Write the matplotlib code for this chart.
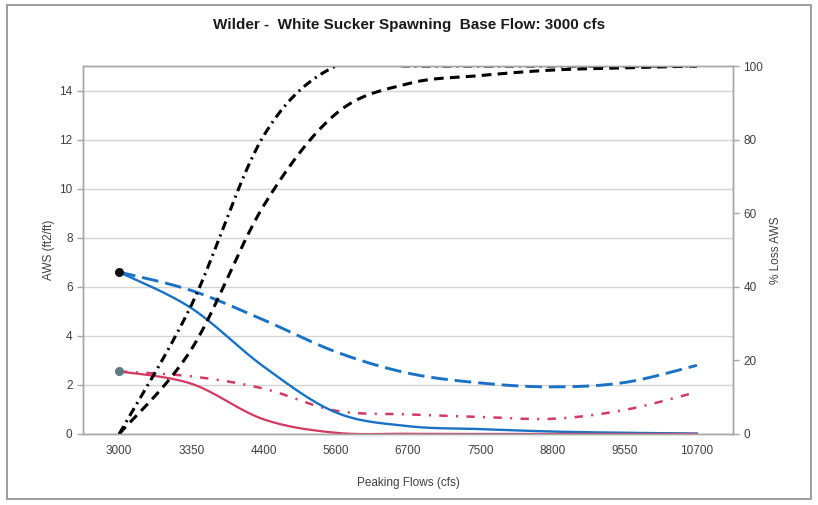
import numpy as np
import matplotlib
matplotlib.use("Agg")
import matplotlib.pyplot as plt
from matplotlib.patches import Rectangle

plt.rcParams['font.family'] = ['Liberation Sans', 'DejaVu Sans']
plt.rcParams['lines.scale_dashes'] = False

flows = ["3000", "3350", "4400", "5600", "6700", "7500", "8800", "9550", "10700"]

# AWS (ft2/ft), left axis
aws_blue = [6.6, 5.13, 2.75, 0.88, 0.32, 0.2, 0.1, 0.05, 0.02]
aws_blue_dash = [6.6, 5.85, 4.65, 3.35, 2.48, 2.08, 1.92, 2.1, 2.8]
aws_red = [2.55, 2.05, 0.6, 0.05, 0.01, 0.0, 0.0, 0.0, 0.0]
aws_red_dashdot = [2.55, 2.35, 1.85, 0.95, 0.8, 0.7, 0.62, 0.98, 1.71]

# % Loss AWS, right axis
loss_dashdot = [0, 35, 81, 100, 100, 100, 100, 100, 100]
loss_dash = [0, 23, 62, 87, 95.2, 97.4, 98.9, 99.5, 100]


def smooth(y, n=30):
    # Excel-style smoothed line (Bezier through the points)
    pts = np.column_stack([np.arange(len(y), dtype=float), np.asarray(y, float)])
    t = np.linspace(0, 1, n)[:, None]
    out = []
    for i in range(len(pts) - 1):
        p0 = pts[i - 1] if i > 0 else pts[i]
        p1, p2 = pts[i], pts[i + 1]
        p3 = pts[i + 2] if i + 2 < len(pts) else pts[i + 1]
        c1 = p1 + (p2 - p0) / 6
        c2 = p2 - (p3 - p1) / 6
        seg = (1 - t) ** 3 * p1 + 3 * (1 - t) ** 2 * t * c1 + 3 * (1 - t) * t ** 2 * c2 + t ** 3 * p2
        out.append(seg if i == 0 else seg[1:])
    s = np.vstack(out)
    return s[:, 0], s[:, 1]


blue = "#1a72c4"
red = "#d23a62"
txt = "#404040"
grid = "#d4d4d4"
frame = "#a6a6a6"

fig = plt.figure(figsize=(8.18, 5.05), dpi=100)
fig.patches.append(Rectangle((0.009, 0.012), 0.983, 0.978, transform=fig.transFigure,
                             fill=False, edgecolor="#8c8c8c", linewidth=1.2))

ax = fig.add_axes([0.1015, 0.1406, 0.7946, 0.7287])
ax2 = ax.twinx()

ax.set_xlim(-0.5, len(flows) - 0.5)
ax.set_ylim(0, 15)
ax2.set_ylim(0, 100)

ax.set_yticks(range(0, 15, 2))
ax.yaxis.grid(True, color=grid, linewidth=1.0)
ax.set_axisbelow(True)
ax2.set_yticks(range(0, 101, 20))
ax.set_xticks(range(len(flows)))
ax.set_xticklabels(flows)

for a in (ax, ax2):
    for sp in a.spines.values():
        sp.set_color(frame)
        sp.set_linewidth(1.0)
    a.tick_params(colors=frame, labelcolor=txt, labelsize=8.5, length=4, width=1.0)
ax.tick_params(axis="x", length=0, pad=8)

ax.set_ylabel("AWS (ft2/ft)", fontsize=8.5, color=txt, labelpad=3)
ax2.set_ylabel("% Loss AWS", fontsize=8.5, color=txt, labelpad=5, rotation=90)
ax.set_xlabel("Peaking Flows (cfs)", fontsize=8.5, color=txt, labelpad=14)
fig.suptitle("Wilder -  White Sucker Spawning  Base Flow: 3000 cfs",
             x=0.5, y=0.965, fontsize=11, fontweight="bold", color="#1a1a1a")

x, y = smooth(aws_blue_dash)
ax.plot(x, y, color=blue, lw=2.1, dashes=(12, 5), solid_capstyle="butt")
x, y = smooth(aws_red_dashdot)
ax.plot(x, y, color=red, lw=1.8, dashes=(6, 6, 1.5, 6))
x, y = smooth(aws_blue)
ax.plot(x, y, color=blue, lw=1.7)
x, y = smooth(aws_red)
ax.plot(x, y, color=red, lw=1.6)
ax.plot([0], [aws_blue[0]], "o", color="#111111", ms=5.5)
ax.plot([0], [aws_red[0]], "o", color="#5f7a84", ms=5.5)

x, y = smooth(loss_dashdot)
ax2.plot(x, y, color="black", lw=2.2, dashes=(6.5, 3.5, 1.5, 3.5))
x, y = smooth(loss_dash)
ax2.plot(x, y, color="black", lw=2.2, dashes=(7, 4.5))

fig.savefig("out.png", dpi=100)
